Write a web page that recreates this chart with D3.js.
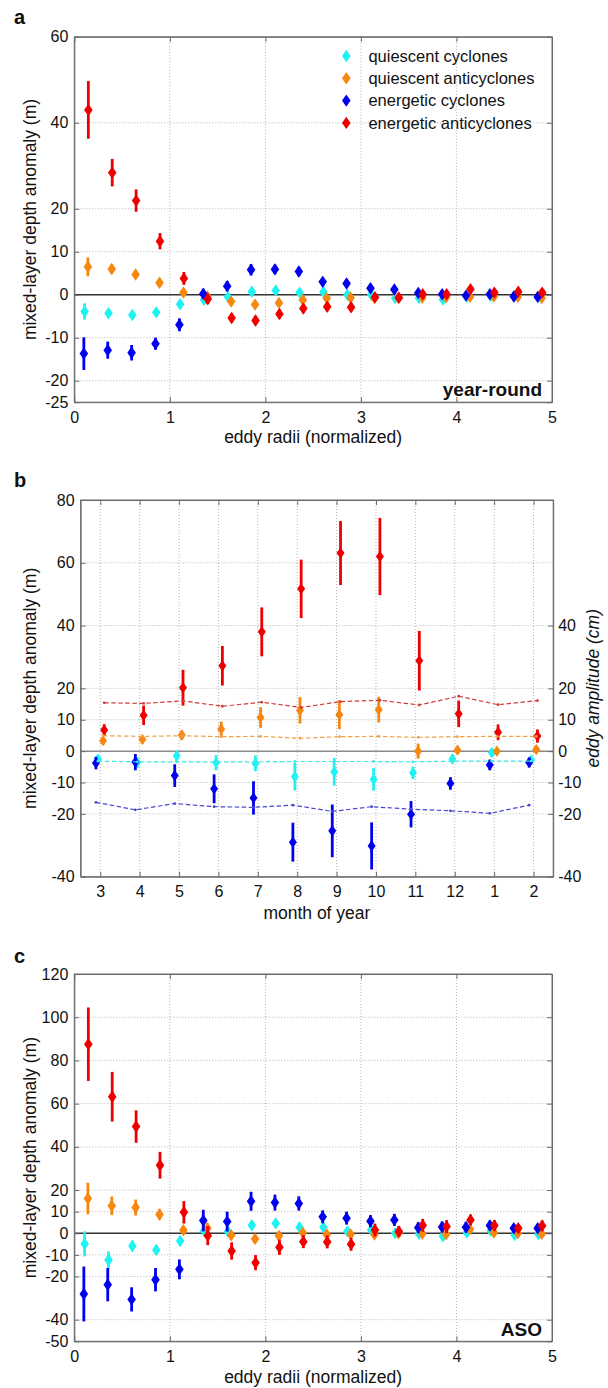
<!DOCTYPE html>
<html><head><meta charset="utf-8">
<script src="https://cdn.jsdelivr.net/npm/d3@7"></script>
<style>body{margin:0;background:#fff}svg{display:block}</style>
</head><body>
<svg id="chart" width="608" height="1388"></svg>
<script>
// ---------- data ----------
const radiiBins = [0.125,0.375,0.625,0.875,1.125,1.375,1.625,1.875,2.125,2.375,2.625,2.875,3.125,3.375,3.625,3.875,4.125,4.375,4.625,4.875];
const radiiTicks = [0,1,2,3,4,5];
const seriesNames = ["quiescent cyclones","quiescent anticyclones","energetic cyclones","energetic anticyclones"];

// panel a: year-round
const yrTicks = [-25,-20,-10,0,10,20,40,60];
const yrQC    = [-3.9,-4.3,-4.7,-4.1,-2.2,-1.2,-0.5,0.7,1.0,0.5,0.7,0.0,0.0,-0.8,-0.8,-1.1,-0.5,-0.3,-0.3,-0.5];
const yrQCerr = [1.9,1.0,1.0,1.0,1.0,0.8,0.8,0.8,0.8,0.8,0.7,0.7,0.7,0.6,0.6,0.6,0.6,0.6,0.6,0.6];
const yrQA    = [6.5,6.0,4.7,2.8,0.5,-0.4,-1.6,-2.3,-1.9,-1.2,-0.8,-0.7,-0.8,-0.7,-0.7,-0.6,-0.5,-0.4,-0.5,-0.8];
const yrQAerr = [2.2,1.1,1.0,1.0,0.9,0.8,0.8,0.8,0.8,0.8,0.7,0.7,0.7,0.6,0.6,0.6,0.6,0.6,0.6,0.6];
const yrEC    = [-13.7,-12.9,-13.5,-11.4,-7.0,0.2,2.0,5.8,5.9,5.4,3.0,2.6,1.5,1.2,0.4,0.1,-0.2,0.1,-0.4,-0.5];
const yrECerr = [3.8,2.0,1.8,1.4,1.5,1.2,1.2,1.3,1.1,1.1,1.0,1.0,0.9,0.9,0.8,0.8,0.8,0.8,0.8,0.8];
const yrEA    = [43.0,28.4,21.9,12.45,3.8,-1.0,-5.4,-6.0,-4.5,-3.2,-2.8,-2.9,-0.6,-0.7,0.1,0.1,1.3,0.5,0.7,0.5];
const yrEAerr = [6.7,3.2,2.6,1.9,1.5,1.2,1.1,1.1,1.1,1.1,1.0,1.0,0.9,0.9,0.9,0.9,0.9,0.8,0.8,0.8];

// panel b: monthly
const months = ["3","4","5","6","7","8","9","10","11","12","1","2"];
const monTicks = [-40,-20,-10,0,10,20,40,60,80];
const ampTicks = [-40,-20,-10,0,10,20,40];
const monQC    = [-2.5,-3.6,-1.5,-3.7,-3.9,-8.1,-6.6,-9.0,-6.9,-2.5,-0.5,-2.8];
const monQCerr = [1.3,1.7,1.7,2.4,2.5,4.4,4.4,3.6,2.0,1.5,1.3,1.1];
const monQA    = [3.3,3.7,5.1,7.0,10.7,13.0,11.6,13.2,0.0,0.3,0.0,0.5];
const monQAerr = [1.3,1.2,1.5,2.4,3.3,4.2,4.6,4.1,2.4,1.2,1.0,1.2];
const monEC    = [-3.8,-3.5,-7.8,-12.0,-14.9,-29.0,-25.4,-30.2,-20.1,-10.3,-4.4,-3.6];
const monECerr = [2.0,2.6,3.6,4.6,5.3,6.2,8.4,7.5,4.2,2.0,1.7,1.6];
const monEA    = [6.7,11.4,20.2,27.2,38.0,51.7,63.1,62.0,28.8,11.9,6.0,4.8];
const monEAerr = [1.9,3.1,5.7,6.3,7.8,9.3,10.2,12.3,9.5,4.2,2.5,2.1];
// eddy amplitude (cm), right axis
const ampQC = [-3.2,-3.4,-3.4,-3.4,-3.4,-3.3,-3.3,-3.3,-3.4,-3.2,-3.2,-3.2];
const ampQA = [4.9,4.7,4.9,4.6,4.7,4.1,4.6,4.7,4.4,4.6,4.7,4.7];
const ampEC = [-16.3,-18.7,-16.7,-17.7,-17.9,-17.2,-19.2,-17.7,-18.5,-19.0,-19.8,-17.2];
const ampEA = [15.4,15.2,16.0,14.3,15.6,13.9,15.8,16.2,14.7,17.5,14.8,16.1];

// panel c: ASO
const asoTicks = [-50,-40,-20,-10,0,10,20,40,60,80,100,120];
const asoQC    = [-4.9,-12.4,-5.9,-7.7,-3.6,1.1,0.8,3.7,4.6,2.8,2.8,0.9,1.5,0.0,-0.3,-1.4,0.3,1.2,-0.8,-0.5];
const asoQCerr = [5.8,4.0,2.5,2.3,2.0,2.0,2.0,2.0,2.0,2.0,1.8,1.8,1.6,1.5,1.5,1.5,1.5,1.5,1.5,1.5];
const asoQA    = [16.1,12.7,11.9,8.7,1.4,2.3,-0.9,-2.6,-1.2,0.2,-0.6,-0.5,-0.6,0.0,-0.2,-0.5,1.9,0.3,0.0,-0.3];
const asoQAerr = [7.3,4.3,3.7,2.5,2.0,2.5,2.0,2.0,2.0,2.0,1.8,1.8,1.6,1.5,1.5,1.5,1.5,1.5,1.5,1.5];
const asoEC    = [-28.1,-23.8,-30.6,-21.5,-16.7,5.9,5.4,14.8,14.2,13.8,7.6,7.0,5.6,6.2,2.6,2.9,2.8,3.6,2.3,2.3];
const asoECerr = [12.7,7.7,5.6,5.4,4.6,5.0,4.6,4.4,3.7,3.3,3.0,3.0,2.8,2.8,2.5,2.5,2.5,2.2,2.0,2.0];
const asoEA    = [87.5,63.2,49.4,31.5,9.7,-1.1,-8.2,-13.6,-6.5,-3.9,-4.0,-5.1,1.5,0.8,3.7,3.1,6.2,3.6,2.3,3.5];
const asoEAerr = [17.0,11.5,7.5,6.2,5.2,4.4,4.0,3.5,3.5,3.0,3.0,3.0,3.0,2.5,3.0,3.0,2.5,2.5,2.0,2.5];

// ---------- styles ----------
const colors = ["#1ff2f2","#f7870f","#0000ee","#ee0000"];
const lineColors = ["#3fe6e6","#eda24a","#4747cf","#d23c3c"];
const radiiOffset = [-0.017,0.017,-0.025,0.022];
const monthOffset = [-0.06,0.07,-0.11,0.1];
const FONT = "'Liberation Sans', Arial, Helvetica, sans-serif";
const plainNum = d => String(d);   // hyphen-minus like the original

const svg = d3.select("#chart");
svg.append("rect").attr("width",608).attr("height",1388).attr("fill","#fff");

function diamond(w,h){ return `M0,${-h}L${w},0L0,${h}L${-w},0Z`; }

function drawPanel(cfg){
  const g = svg.append("g");
  const x = cfg.x, y = cfg.y;
  const [x0,x1] = x.range();
  const [yb,yt] = y.range();
  // grid
  g.append("g").selectAll("line").data(cfg.xGrid).join("line")
    .attr("x1",d=>x(d)).attr("x2",d=>x(d)).attr("y1",yt).attr("y2",yb)
    .attr("stroke","#b4b4b4").attr("stroke-width",1).attr("stroke-dasharray","1,2");
  g.append("g").selectAll("line").data(cfg.yGrid).join("line")
    .attr("y1",d=>y(d)).attr("y2",d=>y(d)).attr("x1",x0).attr("x2",x1)
    .attr("stroke","#b4b4b4").attr("stroke-width",1).attr("stroke-dasharray","1,2");
  // zero line
  g.append("line").attr("x1",x0).attr("x2",x1).attr("y1",y(0)).attr("y2",y(0))
    .attr("stroke",cfg.zeroColor).attr("stroke-width",cfg.zeroWidth);

  // axes
  const axL = d3.axisLeft(y).tickValues(cfg.yTicks).tickSize(-5).tickSizeOuter(0).tickPadding(6).tickFormat(plainNum);
  const axB = d3.axisBottom(x).tickValues(cfg.xTickVals).tickSize(-5).tickSizeOuter(0).tickPadding(9)
    .tickFormat(cfg.xFormat || plainNum);
  const axT = d3.axisTop(x).tickValues(cfg.xTickVals).tickSize(-5).tickSizeOuter(0).tickFormat("");
  const axR = d3.axisRight(y).tickValues(cfg.rTicks || cfg.yTicks).tickSize(-5).tickSizeOuter(0).tickPadding(5)
    .tickFormat(cfg.rTicks ? plainNum : "");
  const style = sel => { sel.selectAll("path,line").attr("stroke","#6a6a6a").attr("stroke-width",1);
    sel.selectAll("text").attr("fill","#111").style("font-family",FONT).style("font-size","16px"); };
  g.append("g").attr("transform",`translate(${x0},0)`).call(axL).call(style);
  g.append("g").attr("transform",`translate(0,${yb})`).call(axB).call(style);
  g.append("g").attr("transform",`translate(0,${yt})`).call(axT).call(style);
  g.append("g").attr("transform",`translate(${x1},0)`).call(axR).call(style);

  // series markers + error bars
  cfg.series.forEach((s,k)=>{
    const sg = g.append("g");
    const pts = s.vals.map((v,i)=>({x:x(cfg.cats[i]+cfg.offsets[k]), v, e:s.errs[i]}));
    sg.selectAll("line").data(pts).join("line")
      .attr("x1",d=>d.x).attr("x2",d=>d.x)
      .attr("y1",d=>y(d.v-d.e)).attr("y2",d=>y(d.v+d.e))
      .attr("stroke",colors[k]).attr("stroke-width",2.8);
    sg.selectAll("path").data(pts).join("path")
      .attr("d",diamond(cfg.mw,cfg.mh))
      .attr("transform",d=>`translate(${d.x},${y(d.v)})`)
      .attr("fill",colors[k]);
  });
  // dashed amplitude lines
  if (cfg.lines){
    cfg.lines.forEach((vals,k)=>{
      const pts = vals.map((v,i)=>[x(cfg.cats[i]+cfg.offsets[k]), y(v)]);
      g.append("path").attr("d",d3.line()(pts)).attr("fill","none")
        .attr("stroke",lineColors[k]).attr("stroke-width",1.2).attr("stroke-dasharray","4.5,2.5");
      g.append("g").selectAll("circle").data(pts).join("circle")
        .attr("cx",d=>d[0]).attr("cy",d=>d[1]).attr("r",1.4).attr("fill",lineColors[k]);
    });
  }
  // frame
  g.append("rect").attr("x",x0).attr("y",yt).attr("width",x1-x0).attr("height",yb-yt)
    .attr("fill","none").attr("stroke","#6a6a6a").attr("stroke-width",1);

  // titles
  g.append("text").attr("x",(x0+x1)/2).attr("y",cfg.xTitleY).attr("text-anchor","middle")
    .style("font-family",FONT).style("font-size","17.5px").attr("fill","#111").text(cfg.xTitle);
  g.append("text").attr("transform",`translate(35.5,${(yb+yt)/2}) rotate(-90)`).attr("text-anchor","middle")
    .style("font-family",FONT).style("font-size","17.5px").attr("fill","#111").text("mixed-layer depth anomaly (m)");
  g.append("text").attr("x",14).attr("y",cfg.letterY)
    .style("font-family",FONT).style("font-size","20px").style("font-weight","bold").attr("fill","#111").text(cfg.letter);
  if (cfg.tag){
    g.append("text").attr("x",x1-10).attr("y",cfg.tagY).attr("text-anchor","end")
      .style("font-family",FONT).style("font-size","19px").style("font-weight","bold").attr("fill","#111").text(cfg.tag);
  }
  return g;
}

// panel a
const pa = drawPanel({
  x: d3.scaleLinear().domain([0,5]).range([74.3,552]),
  y: d3.scaleLinear().domain([-25,60]).range([402.2,36.8]),
  cats: radiiBins, offsets: radiiOffset, xTickVals: radiiTicks, xGrid:[1,2,3,4],
  yTicks: yrTicks, yGrid: [-20,-10,10,20,40],
  zeroColor:"#333", zeroWidth:1.3, mw:4.3, mh:6.2,
  series:[{vals:yrQC,errs:yrQCerr},{vals:yrQA,errs:yrQAerr},{vals:yrEC,errs:yrECerr},{vals:yrEA,errs:yrEAerr}],
  xTitle:"eddy radii (normalized)", xTitleY:443, letter:"a", letterY:24, tag:"year-round", tagY:396
});
// legend
const lg = pa.append("g");
seriesNames.forEach((n,k)=>{
  const yy = 56 + k*22.3;
  lg.append("path").attr("d",diamond(4.3,6.2)).attr("transform",`translate(346.3,${yy})`).attr("fill",colors[k]);
  lg.append("text").attr("x",368.4).attr("y",yy).attr("dy","0.35em")
    .style("font-family",FONT).style("font-size","16.5px").attr("fill","#111").text(n);
});

// panel b
const monIdx = months.map((m,i)=>i);
const pb = drawPanel({
  x: d3.scaleLinear().domain([-0.5,11.5]).range([80.6,553.2]),
  y: d3.scaleLinear().domain([-40,80]).range([876.7,500]),
  cats: monIdx, offsets: monthOffset, xTickVals: monIdx, xFormat: i=>months[i], xGrid: monIdx,
  yTicks: monTicks, rTicks: ampTicks, yGrid: [-20,-10,10,20,40,60],
  zeroColor:"#8a8a8a", zeroWidth:1.5, mw:4.0, mh:5.6,
  series:[{vals:monQC,errs:monQCerr},{vals:monQA,errs:monQAerr},{vals:monEC,errs:monECerr},{vals:monEA,errs:monEAerr}],
  lines:[ampQC,ampQA,ampEC,ampEA],
  xTitle:"month of year", xTitleY:918.5, letter:"b", letterY:487
});
pb.append("text").attr("transform",`translate(599,688.3) rotate(-90)`).attr("text-anchor","middle")
  .style("font-family",FONT).style("font-size","17.5px").style("font-style","italic").attr("fill","#111")
  .text("eddy amplitude (cm)");

// panel c
drawPanel({
  x: d3.scaleLinear().domain([0,5]).range([74.3,552]),
  y: d3.scaleLinear().domain([-50,120]).range([1341.3,974]),
  cats: radiiBins, offsets: radiiOffset, xTickVals: radiiTicks, xGrid:[1,2,3,4],
  yTicks: asoTicks, yGrid: [-40,-20,-10,10,20,40,60,80,100],
  zeroColor:"#333", zeroWidth:1.3, mw:4.3, mh:6.2,
  series:[{vals:asoQC,errs:asoQCerr},{vals:asoQA,errs:asoQAerr},{vals:asoEC,errs:asoECerr},{vals:asoEA,errs:asoEAerr}],
  xTitle:"eddy radii (normalized)", xTitleY:1383, letter:"c", letterY:963, tag:"ASO", tagY:1336
});
</script>
</body></html>
